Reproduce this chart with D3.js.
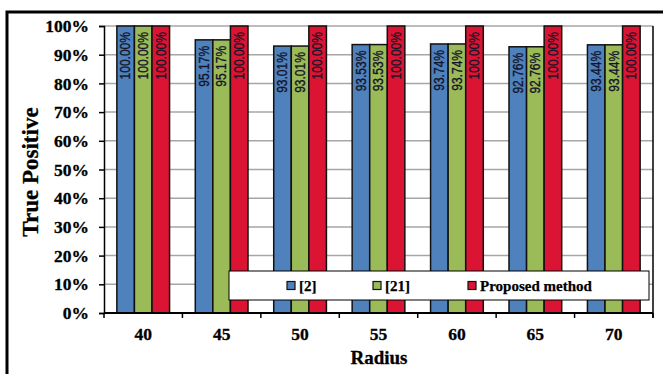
<!DOCTYPE html>
<html>
<head>
<meta charset="utf-8">
<script src="https://cdn.jsdelivr.net/npm/d3@7"></script>
<style>
  html, body { margin: 0; padding: 0; background: #fff; }
  svg { display: block; }
</style>
</head>
<body>
<svg id="chart" width="663" height="374"></svg>
<script>
// Radius values on the x axis
const radii = ["40", "45", "50", "55", "60", "65", "70"];
// Series names as shown in the legend
const seriesNames = ["[2]", "[21]", "Proposed method"];
// True positive rates (%) per radius
const ref2 = [100.00, 95.17, 93.01, 93.53, 93.74, 92.76, 93.44];
const ref21 = [100.00, 95.17, 93.01, 93.53, 93.74, 92.76, 93.44];
const proposed = [100.00, 100.00, 100.00, 100.00, 100.00, 100.00, 100.00];
// Y axis ticks (%)
const yTicks = [0, 10, 20, 30, 40, 50, 60, 70, 80, 90, 100];

const seriesValues = [ref2, ref21, proposed];
const colors = ["#4F81BD", "#9BBB59", "#DC1433"];

const svg = d3.select("#chart");
const serif = "'Liberation Serif', 'Times New Roman', serif";

const plot = { left: 104, right: 653, top: 26, bottom: 313 };

// Outer frame (runs past the right and bottom edges)
svg.append("path")
  .attr("d", `M7,${374 + 5} L7,12 L${663 + 5},12`)
  .attr("fill", "none").attr("stroke", "#000").attr("stroke-width", 3);

const x0 = d3.scaleBand().domain(radii).range([plot.left, plot.right]).padding(0);
const groupW = x0.bandwidth() * 0.672;
const x1 = d3.scaleBand().domain(d3.range(seriesNames.length)).range([0, groupW]).padding(0);
const y = d3.scaleLinear().domain([0, 100]).range([plot.bottom, plot.top]);

// Horizontal gridlines
svg.append("g").selectAll("line").data(yTicks.filter(t => t > 0)).join("line")
  .attr("x1", plot.left).attr("x2", plot.right)
  .attr("y1", d => y(d)).attr("y2", d => y(d))
  .attr("stroke", "#a6a6a6").attr("stroke-width", 1.5);

// Y axis
const yAxis = d3.axisLeft(y).tickValues(yTicks).tickSize(5).tickFormat(d => d + "%");
const gy = svg.append("g").attr("transform", `translate(${plot.left},0)`).call(yAxis);
gy.select(".domain").attr("stroke", "#000").attr("stroke-width", 1.5);
gy.selectAll(".tick line").attr("stroke", "#000").attr("stroke-width", 1.5);
gy.selectAll(".tick text")
  .attr("x", -15)
  .attr("font-family", serif).attr("font-weight", "bold").attr("font-size", 17.5)
  .attr("fill", "#000").attr("stroke", "#000").attr("stroke-width", 0.3);

// Right edge of plot area
svg.append("line")
  .attr("x1", plot.right).attr("x2", plot.right)
  .attr("y1", plot.top).attr("y2", plot.bottom + 5)
  .attr("stroke", "#000").attr("stroke-width", 1.5);

// Bars with rotated value labels (slightly condensed along the text direction)
const groups = svg.append("g").selectAll("g").data(radii).join("g")
  .attr("transform", d => `translate(${x0(d) + (x0.bandwidth() - groupW) / 2},0)`);

groups.each(function(r, i) {
  const g = d3.select(this);
  seriesValues.forEach((vals, s) => {
    const v = vals[i];
    g.append("rect")
      .attr("x", x1(s)).attr("width", x1.bandwidth())
      .attr("y", y(v)).attr("height", y(0) - y(v))
      .attr("fill", colors[s]).attr("stroke", "#111").attr("stroke-width", 1.5);
    g.append("text")
      .attr("transform", `translate(${x1(s) + x1.bandwidth() / 2},${y(v) + 6}) rotate(-90) scale(0.86,1)`)
      .attr("text-anchor", "end").attr("dominant-baseline", "central")
      .attr("font-family", "'Liberation Sans', Arial, sans-serif").attr("font-size", 14)
      .attr("fill", "#141428").attr("stroke", "#141428").attr("stroke-width", 0.35)
      .text(v.toFixed(2) + "%");
  });
});

// X axis
const gx = svg.append("g").attr("transform", `translate(0,${plot.bottom})`);
gx.append("line").attr("x1", plot.left).attr("x2", plot.right)
  .attr("stroke", "#000").attr("stroke-width", 2);
const bounds = radii.map(r => x0(r)).concat([plot.right]);
gx.selectAll("line.tk").data(bounds).join("line").attr("class", "tk")
  .attr("x1", d => d).attr("x2", d => d).attr("y1", 0).attr("y2", 5)
  .attr("stroke", "#000").attr("stroke-width", 1.5);
gx.selectAll("text").data(radii).join("text")
  .attr("x", d => x0(d) + x0.bandwidth() / 2).attr("y", 27)
  .attr("text-anchor", "middle")
  .attr("font-family", serif).attr("font-weight", "bold").attr("font-size", 17.5)
  .attr("stroke", "#000").attr("stroke-width", 0.3)
  .text(d => d);

// Axis titles
svg.append("text")
  .attr("x", 379).attr("y", 364).attr("text-anchor", "middle")
  .attr("font-family", serif).attr("font-weight", "bold").attr("font-size", 19)
  .attr("stroke", "#000").attr("stroke-width", 0.3)
  .text("Radius");
svg.append("text")
  .attr("transform", "translate(38,172) rotate(-90)").attr("text-anchor", "middle")
  .attr("font-family", serif).attr("font-weight", "bold").attr("font-size", 23)
  .attr("stroke", "#000").attr("stroke-width", 0.3)
  .text("True Positive");

// Legend
const legend = svg.append("g");
legend.append("rect").attr("x", 229).attr("y", 271).attr("width", 420).attr("height", 29)
  .attr("fill", "#fff").attr("stroke", "#000").attr("stroke-width", 1);
const legendX = [287, 373, 468];
seriesNames.forEach((name, s) => {
  legend.append("rect").attr("x", legendX[s]).attr("y", 281.5).attr("width", 8).attr("height", 8)
    .attr("fill", colors[s]).attr("stroke", "#111").attr("stroke-width", 1.2);
  legend.append("text").attr("x", legendX[s] + 12).attr("y", 290.5)
    .attr("font-family", serif).attr("font-weight", "bold").attr("font-size", 15)
    .attr("stroke", "#000").attr("stroke-width", 0.25)
    .text(name);
});
</script>
</body>
</html>
